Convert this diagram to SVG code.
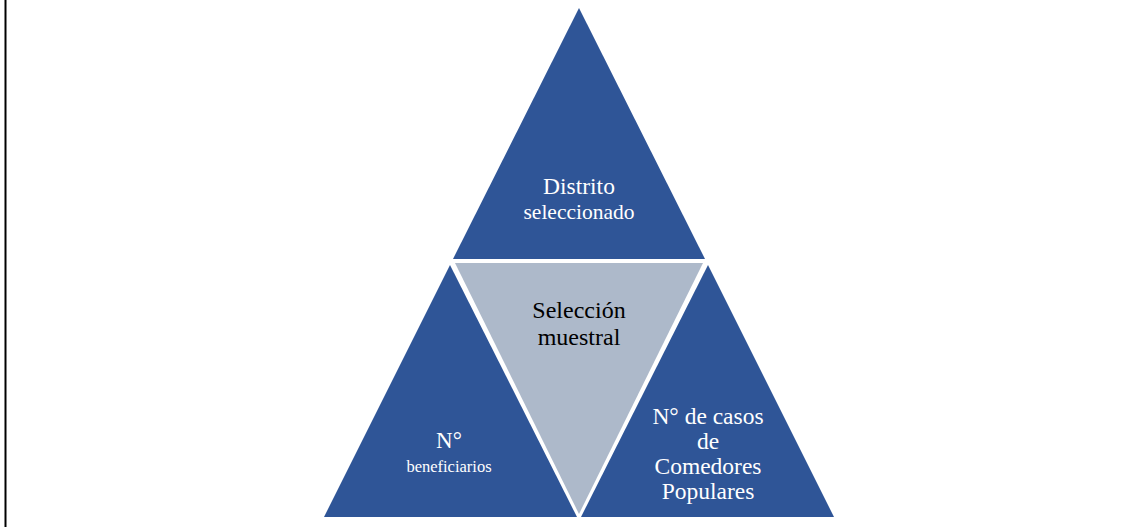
<svg xmlns="http://www.w3.org/2000/svg" width="1148" height="527" viewBox="0 0 1148 527">
<style>
.blue{fill:#2F5597}
.gray{fill:#ADB9CA}
.t{font-family:'Liberation Serif','DejaVu Serif',serif;text-anchor:middle}
.w{fill:#FFFFFF}
.k{fill:#000000}
</style>
<rect x="0" y="0" width="1148" height="527" fill="#FFFFFF"/>
<line x1="5.5" y1="0" x2="5.5" y2="527" stroke="#000000" stroke-width="2"/>
<g id="top">
<polygon class="blue" points="579,8 453,259 705,259"/>
<text class="t w" x="579" y="194" font-size="23.5">Distrito</text>
<text class="t w" x="579" y="219" font-size="21.5">seleccionado</text>
</g>
<g id="center">
<polygon class="gray" points="455,263 703,263 579,514"/>
<text class="t k" x="579" y="318" font-size="24">Selección</text>
<text class="t k" x="579" y="345" font-size="24">muestral</text>
</g>
<g id="left">
<polygon class="blue" points="450,265 324,517 577,517"/>
<text class="t w" x="449" y="448" font-size="23">N°</text>
<text class="t w" x="449" y="472" font-size="16.5">beneficiarios</text>
</g>
<g id="right">
<polygon class="blue" points="708,265 581,517 834,517"/>
<text class="t w" x="708" y="424" font-size="23.5">N° de casos</text>
<text class="t w" x="708" y="449" font-size="23.5">de</text>
<text class="t w" x="708" y="474" font-size="23.5">Comedores</text>
<text class="t w" x="708" y="499" font-size="23.5">Populares</text>
</g>
<g id="connectors"></g>
</svg>
